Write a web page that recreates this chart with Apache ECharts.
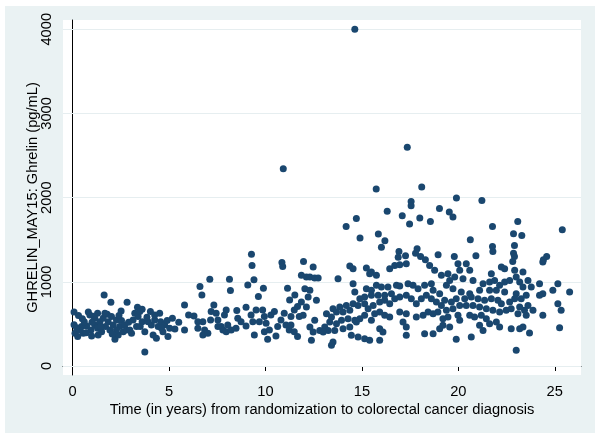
<!DOCTYPE html>
<html>
<head>
<meta charset="utf-8">
<script src="https://cdn.jsdelivr.net/npm/echarts@6/dist/echarts.min.js"></script>
<style>
html,body{margin:0;padding:0;background:#fff;}
#bg{position:absolute;left:5px;top:6px;width:590px;height:427px;background:#EAF2F3;}
#chart{position:absolute;left:0;top:0;width:601px;height:440px;}
</style>
</head>
<body>
<div id="bg"></div>
<div id="chart"></div>
<script>
// Tick labels
const xTicks = [0, 5, 10, 15, 20, 25];
const yTicks = [0, 1000, 2000, 3000, 4000];

// Years 0-6
const yearsA = [1.63,1.98,2.82,0.07,0.81,0.89,1.29,1.79,2.51,3.36,3.60,4.03,4.51,5.17,3.74,0.07,0.12,0.26,0.46,0.55,0.72,0.95,0.98,1.15,1.29,1.41,1.50,1.58,1.70,1.84,1.93,2.01,2.10,2.19,2.27,2.36,2.44,2.53,2.62,2.70,2.79,2.96,3.13,3.22,3.31,3.39,3.48,3.60,3.74,3.91,4.08,4.17,4.25,4.34,4.43,4.56,4.68,4.77,4.94,5.03,1.67,1.15,0.60,0.38,1.32,2.27,4.25,0.20,0.30,0.50,0.70,1.00,1.10,1.45,2.05,2.40,2.90,3.05,3.50,3.85,4.60,4.90,5.30,5.50];
const ghrelinA = [844,757,757,642,642,606,626,614,654,698,674,646,626,567,166,491,388,349,468,388,476,428,357,487,448,527,408,567,468,527,428,587,487,317,547,368,468,539,408,487,428,428,547,626,468,587,646,527,408,527,487,368,547,329,468,527,408,487,349,448,626,567,527,428,368,428,606,455,600,560,395,520,590,470,380,600,520,390,470,580,450,540,440,520];

// Years 6-11.8
const yearsB = [9.27,9.30,10.85,10.89,11.97,7.11,8.13,6.60,6.70,8.18,9.08,9.40,9.89,9.63,11.14,11.52,11.25,5.80,6.01,6.29,7.32,7.18,7.15,7.53,7.44,7.96,7.87,8.51,8.56,8.99,9.51,9.85,6.49,6.75,6.49,6.84,6.75,7.01,7.70,7.79,7.96,8.22,8.47,8.99,9.34,9.42,9.68,10.03,9.94,10.20,10.11,10.54,10.80,10.97,11.06,11.32,11.49,11.66,11.23,11.49,11.66,5.80,10.28,10.46,9.94,9.25,8.73,8.04,7.53,10.63,11.32,11.75];
const ghrelinB = [1328,1194,1229,1182,1241,1031,1031,944,844,896,963,1023,924,825,924,844,785,725,606,595,725,646,547,547,626,666,606,658,567,698,666,666,527,527,448,428,368,388,468,428,408,428,448,476,527,368,527,507,408,428,317,357,547,626,487,587,666,706,428,408,349,428,606,646,587,606,527,487,468,468,487,587];

// Years 11.8-19.3
const yearsC = [12.47,14.37,14.54,15.23,15.49,15.75,15.40,16.44,16.70,16.96,17.30,18.51,18.77,12.12,11.86,12.30,12.55,12.73,13.76,19.12,
  14.54,12.04,12.30,14.63,15.23,15.49,15.75,16.01,16.35,16.79,16.96,17.39,17.65,17.91,18.25,18.60,18.69,19.03,16.53,16.18,15.84,15.49,15.14,14.89,12.64,12.21,11.86,
  14.54,14.19,13.85,13.50,13.16,13.42,13.68,14.02,14.37,14.80,15.14,15.32,15.58,15.92,16.18,16.44,16.70,16.96,17.30,17.56,17.82,18.08,18.34,18.60,18.86,19.12,18.94,18.69,18.43,18.17,17.82,16.96,17.30,16.44,16.18,15.92,15.66,15.49,15.14,14.89,14.63,14.28,13.94,13.68,13.33,13.07,12.81,12.55,12.12,11.95,
  14.71,14.37,14.02,13.59,13.25,12.99,15.92,16.09,17.13,17.30,17.30,18.25,18.69,19.03,19.20,14.45,14.80,15.14,15.40,15.92,13.50,13.42,12.47,12.38,12.30,
  16.92,17.26,16.88,17.78,18.04,18.29];
const ghrelinC = [1176,1187,1156,1164,1116,1077,1096,1156,1195,1203,1215,1195,1136,1057,1077,1057,1045,1045,1037,1077,
  978,918,899,879,918,899,958,938,938,958,950,978,958,918,958,978,899,859,859,839,839,839,819,800,780,819,760,
  740,720,701,681,621,582,641,641,661,720,740,681,720,760,780,740,800,819,839,800,740,800,839,800,760,720,641,621,641,602,582,641,621,582,602,641,621,542,602,562,542,562,542,503,522,463,423,542,701,602,
  522,463,443,423,423,404,443,404,522,463,364,384,384,443,483,364,344,324,305,305,285,245,404,305,463,
  1360,1309,1293,1340,1301,1261];

// Years 19.2-26
const yearsD = [19.98,20.41,19.46,20.07,20.59,22.23,22.40,22.92,23.35,24.38,21.71,
  19.55,19.81,20.24,20.76,21.28,21.62,21.88,22.14,22.40,22.66,23.00,23.18,23.61,23.35,23.78,24.21,25.16,24.90,24.38,24.21,25.77,
  19.38,19.72,20.15,20.59,21.10,21.62,21.97,22.40,23.00,23.52,
  19.29,19.64,19.89,20.33,20.67,21.02,21.36,21.71,22.05,22.23,22.66,22.92,23.26,23.61,23.87,23.43,23.18,22.74,22.48,22.14,21.79,21.45,21.10,20.76,20.41,20.07,19.72,19.38,25.16,25.33,24.38,23.52,23.09,
  19.20,19.46,19.98,20.07,20.59,20.84,21.19,21.45,21.62,21.97,21.10,21.28,22.14,22.74,23.18,23.35,23.69,25.25,19.55,19.89,20.67,23.00,
  19.79,20.91,21.79,22.86,22.91,22.82,24.41,24.58];
const ghrelinD = [1215,1215,1096,1136,1136,1176,1156,1136,1116,1235,1096,
  1017,1057,1037,1017,978,997,1017,958,997,1017,1057,997,1017,938,938,978,978,899,859,839,879,
  958,918,879,859,899,899,899,879,859,839,
  780,760,800,800,819,800,780,800,780,740,760,800,800,720,661,661,701,681,661,641,661,681,701,720,720,720,681,661,740,661,602,602,621,
  562,582,602,542,602,582,602,562,503,522,483,423,463,443,443,463,392,455,463,317,344,186,
  1301,1309,1360,1340,1301,1241,1261,1301];

// High values (above ~1380 pg/mL)
const yearsHigh = [14.63,10.92,15.74,16.31,14.71,14.18,14.90,15.85,16.19,16.01,17.35,18.10,17.55,17.55,19.90,21.22,17.09,17.47,18.00,18.55,19.02,19.53,19.72,21.77,23.08,22.86,23.29,25.39,20.62,21.77,22.91,17.86,18.95];
const ghrelinHigh = [4000,2344,2103,1837,1753,1658,1519,1567,1487,1412,2598,2127,1955,1904,1996,1967,1785,1686,1757,1717,1872,1829,1770,1658,1717,1571,1551,1618,1499,1420,1432,1392,1321];

const allYears = [].concat(yearsA, yearsB, yearsC, yearsD, yearsHigh);
const allGhrelin = [].concat(ghrelinA, ghrelinB, ghrelinC, ghrelinD, ghrelinHigh);
const points = allYears.map((x, i) => [x, allGhrelin[i]]);

const FONT = 'Liberation Sans, Arial, Helvetica, sans-serif';
const FS = 14.7;
const chart = echarts.init(document.getElementById('chart'), null, {renderer: 'canvas'});
chart.setOption({
  backgroundColor: 'transparent',
  animation: false,
  grid: {left: 63, right: 20, top: 20, bottom: 65, show: true, backgroundColor: '#ffffff', borderWidth: 0},
  xAxis: {
    type: 'value', min: -0.503, max: 26.36,
    name: 'Time (in years) from randomization to colorectal cancer diagnosis',
    nameLocation: 'middle', nameGap: 27, nameMoveOverlap: false,
    nameTextStyle: {fontFamily: FONT, fontSize: FS, color: '#000'},
    axisLine: {show: true, lineStyle: {color: '#000', width: 1}},
    axisTick: {show: true, length: 5, customValues: xTicks, lineStyle: {color: '#000'}},
    axisLabel: {show: true, customValues: xTicks, margin: 9, fontFamily: FONT, fontSize: FS, color: '#000', formatter: v => String(v)},
    splitLine: {show: false}
  },
  yAxis: {
    type: 'value', min: -107, max: 4110,
    name: 'GHRELIN_MAY15: Ghrelin (pg/mL)',
    nameLocation: 'middle', nameGap: 23, nameMoveOverlap: false,
    nameTextStyle: {fontFamily: FONT, fontSize: FS, color: '#000'},
    axisLine: {show: true, lineStyle: {color: '#000', width: 1}},
    axisTick: {show: true, length: 5, customValues: yTicks, lineStyle: {color: '#000'}},
    axisLabel: {show: true, customValues: yTicks, rotate: 90, margin: 9, fontFamily: FONT, fontSize: FS, color: '#000', formatter: v => String(v)},
    splitLine: {show: false}
  },
  series: [
    {
      type: 'scatter', data: [], z: 1, silent: true,
      markLine: {
        silent: true, symbol: 'none', animation: false, z: 1,
        label: {show: false},
        lineStyle: {color: '#E6EEF0', width: 1, type: 'solid'},
        data: yTicks.map(v => ({yAxis: v}))
      }
    },
    {
      type: 'scatter', data: points, z: 3,
      symbol: 'circle', symbolSize: 7,
      itemStyle: {color: '#1A476F', opacity: 1}
    }
  ]
});
</script>
</body>
</html>
